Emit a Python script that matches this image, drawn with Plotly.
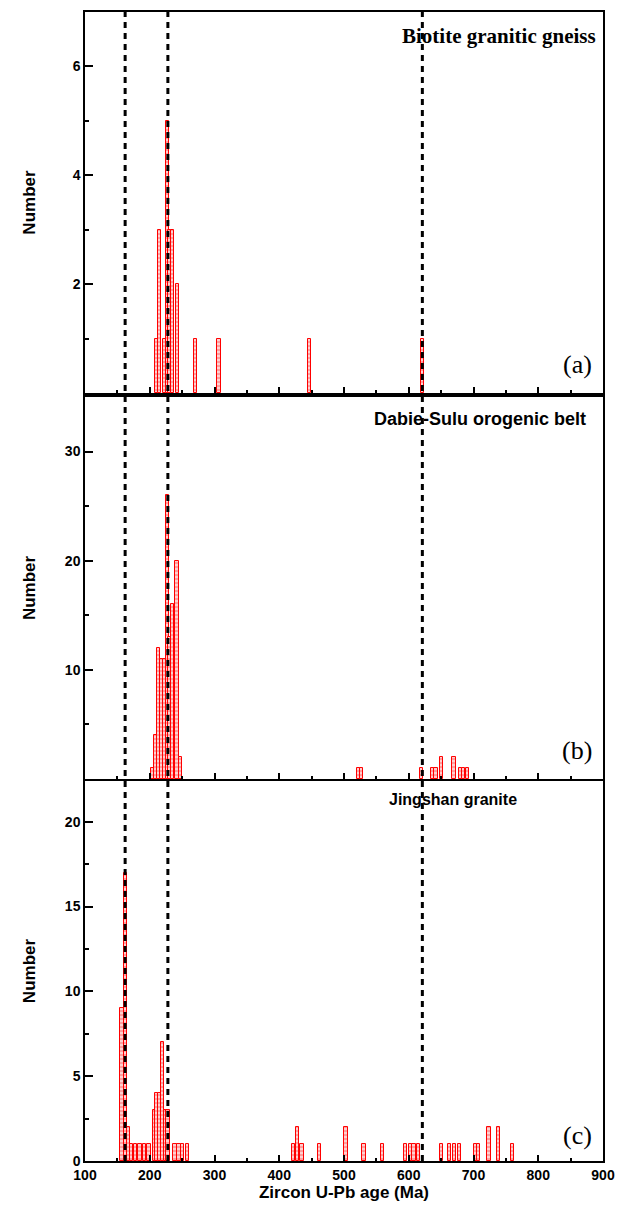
import plotly.graph_objects as go

# Panel (a): Biotite granitic gneiss
ages_a = [211, 215, 223, 227, 231, 235, 243, 271, 307, 447, 621]
counts_a = [1, 3, 1, 5, 3, 3, 2, 1, 1, 1, 1]

# Panel (b): Dabie-Sulu orogenic belt
ages_b = [205, 209, 214, 219, 223, 227, 231, 235, 242, 247,
          522, 527, 620, 637, 642, 651, 670, 680, 685, 691]
counts_b = [1, 4, 12, 11, 11, 26, 13, 16, 20, 2,
            1, 1, 1, 1, 1, 2, 2, 1, 1, 1]

# Panel (c): Jingshan granite
ages_c = [157, 162, 167, 172, 178, 185, 192, 199, 207, 211, 215, 220, 224, 228,
          239, 245, 250, 258, 422, 428, 435, 462, 503, 531, 560, 595, 603, 608,
          615, 651, 663, 671, 678, 703, 708, 724, 739, 760]
counts_c = [9, 17, 2, 1, 1, 1, 1, 1, 3, 4, 4, 7, 3, 3,
            1, 1, 1, 1, 1, 2, 1, 1, 2, 1, 1, 1, 1, 1,
            1, 1, 1, 1, 1, 1, 1, 2, 2, 1]

ref_ages = [162, 228, 621]
panel_titles = ["Biotite granitic gneiss", "Dabie-Sulu orogenic belt", "Jingshan granite"]
panel_tags = ["(a)", "(b)", "(c)"]
x_ticks = [100, 200, 300, 400, 500, 600, 700, 800, 900]

BAR_W = 5
bar_style = dict(
    color="#ffc4c4",
    line=dict(color="#ff0000", width=1),
    pattern=dict(shape="-", fgcolor="#ff0000", bgcolor="#ffd0d0", size=4, solidity=0.25),
)

fig = go.Figure()
fig.add_trace(go.Bar(x=ages_a, y=counts_a, width=BAR_W, marker=bar_style, xaxis="x", yaxis="y", showlegend=False))
fig.add_trace(go.Bar(x=ages_b, y=counts_b, width=BAR_W, marker=bar_style, xaxis="x2", yaxis="y2", showlegend=False))
fig.add_trace(go.Bar(x=ages_c, y=counts_c, width=BAR_W, marker=bar_style, xaxis="x3", yaxis="y3", showlegend=False))

SANS = "Arial, Liberation Sans, sans-serif"
SERIF = "Times New Roman, Liberation Serif, serif"
tickfont = dict(family=SANS, size=14, color="black", weight="bold")
titlefont = dict(family=SANS, size=17, color="black", weight="bold")

def xax(anchor, show_labels):
    return dict(range=[100, 900], anchor=anchor, tickvals=x_ticks, ticks="inside", ticklen=6, tickwidth=1.5,
                tickcolor="black", showline=True, linecolor="black", linewidth=1.5, mirror=True,
                showgrid=False, zeroline=False, showticklabels=show_labels, tickfont=tickfont,
                minor=dict(dtick=50, tick0=100, ticks="inside", ticklen=3, tickwidth=1.5, tickcolor="black"))

def yax(anchor, domain, rng, tvals, minor_dtick, standoff):
    return dict(domain=domain, range=rng, anchor=anchor, tickvals=tvals, ticks="inside", ticklen=8,
                tickwidth=1.5, tickcolor="black", showline=True, linecolor="black", linewidth=1.5,
                mirror=True, showgrid=False, zeroline=False, tickfont=tickfont,
                title=dict(text="Number", font=titlefont, standoff=standoff),
                minor=dict(dtick=minor_dtick, tick0=0, ticks="inside", ticklen=4, tickwidth=1.5, tickcolor="black"))

fig.update_layout(
    width=618, height=1206,
    margin=dict(l=85, r=15, t=12, b=45, autoexpand=False),
    paper_bgcolor="white", plot_bgcolor="white",
    bargap=0, barmode="overlay",
    xaxis=xax("y", False),
    yaxis=yax("x", [0.6684, 1.0], [0, 7], [2, 4, 6], 1, 33),
    xaxis2=xax("y2", False),
    yaxis2=yax("x2", [0.3325, 0.6649], [0, 35], [10, 20, 30], 5, 25),
    xaxis3=dict(xax("y3", True), title=dict(text="Zircon U-Pb age (Ma)", font=titlefont, standoff=4)),
    yaxis3=yax("x3", [0.0, 0.3307], [0, 22.4], [0, 5, 10, 15, 20], 2.5, 25),
)

for xa in ref_ages:
    fig.add_shape(type="line", xref="x3", yref="paper", x0=xa, x1=xa, y0=0, y1=1,
                  line=dict(color="black", width=3, dash="6px,5px"), layer="above")

# panel labels (paper coords)
fig.add_annotation(text=panel_titles[0], xref="paper", yref="paper", x=0.990, y=0.979,
                   xanchor="right", yanchor="middle", showarrow=False,
                   font=dict(family=SERIF, size=21, color="black", weight="bold"))
fig.add_annotation(text=panel_titles[1], xref="paper", yref="paper", x=0.554, y=0.6458,
                   xanchor="left", yanchor="middle", showarrow=False,
                   font=dict(family=SANS, size=18, color="black", weight="bold"))
fig.add_annotation(text=panel_titles[2], xref="paper", yref="paper", x=0.583, y=0.3142,
                   xanchor="left", yanchor="middle", showarrow=False,
                   font=dict(family=SANS, size=16, color="black", weight="bold"))
for tag, yy in zip(panel_tags, [0.6928, 0.3577, 0.0226]):
    fig.add_annotation(text=tag, xref="paper", yref="paper", x=0.983, y=yy, xanchor="right", yanchor="middle",
                       showarrow=False, font=dict(family=SERIF, size=26, color="black"))

fig.write_html("out.html", config={"displayModeBar": False},
               post_script="document.body.style.margin='0';")
